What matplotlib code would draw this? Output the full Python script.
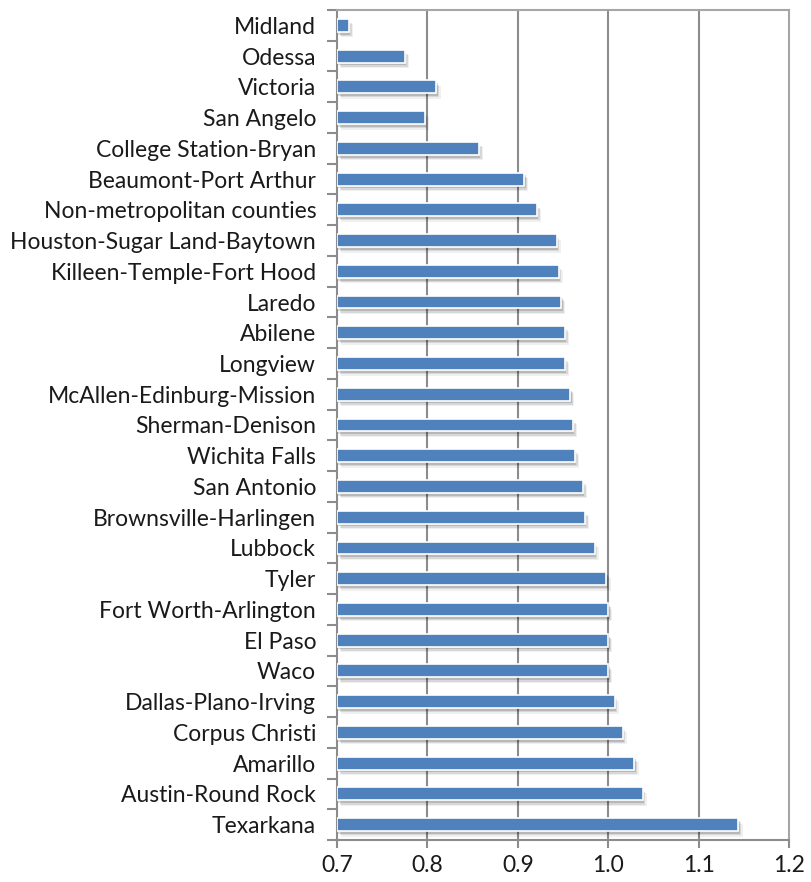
import numpy as np
import matplotlib
matplotlib.use('Agg')
import matplotlib.pyplot as plt
import matplotlib.patheffects as pe

regions = ['Midland', 'Odessa', 'Victoria', 'San Angelo', 'College Station-Bryan',
           'Beaumont-Port Arthur', 'Non-metropolitan counties', 'Houston-Sugar Land-Baytown',
           'Killeen-Temple-Fort Hood', 'Laredo', 'Abilene', 'Longview',
           'McAllen-Edinburg-Mission', 'Sherman-Denison', 'Wichita Falls', 'San Antonio',
           'Brownsville-Harlingen', 'Lubbock', 'Tyler', 'Fort Worth-Arlington', 'El Paso',
           'Waco', 'Dallas-Plano-Irving', 'Corpus Christi', 'Amarillo', 'Austin-Round Rock',
           'Texarkana']
values = [0.713, 0.775, 0.810, 0.797, 0.857,
          0.907, 0.921, 0.943,
          0.945, 0.948, 0.952, 0.952,
          0.958, 0.961, 0.963, 0.972,
          0.974, 0.985, 0.998, 1.000, 1.000,
          1.000, 1.007, 1.016, 1.029, 1.038,
          1.144]
xticks = [0.7, 0.8, 0.9, 1.0, 1.1, 1.2]

plt.rcParams['font.family'] = ['Lato', 'DejaVu Sans']

fig = plt.figure(figsize=(8.11, 8.82), dpi=100)
ax = fig.add_axes([0.4155, 0.0476, 0.5575, 0.9411])

y = np.arange(len(regions))
base = xticks[0]
# soft drop shadow under each bar
shadow = [pe.SimplePatchShadow(offset=(3, -4), shadow_rgbFace='#000000', alpha=0.06),
          pe.SimplePatchShadow(offset=(2, -3), shadow_rgbFace='#000000', alpha=0.10),
          pe.SimplePatchShadow(offset=(1, -2), shadow_rgbFace='#000000', alpha=0.14),
          pe.Normal()]
bars = ax.barh(y, np.array(values) - base, left=base, height=0.42,
               color='#4f81bd', edgecolor='white', linewidth=1.2, zorder=3)
for b in bars:
    b.set_path_effects(shadow)

ax.set_ylim(len(regions) - 0.5, -0.5)
ax.set_xlim(0.7, 1.2)
ax.set_yticks(y)
ax.set_yticklabels(regions, fontsize=16.5, color='#1a1a1a')
ax.set_yticks(np.arange(len(regions) + 1) - 0.5, minor=True)
ax.tick_params(axis='y', which='major', length=0, pad=15)
ax.tick_params(axis='y', which='minor', length=7, width=1.5, color='#8c8c8c')
ax.set_xticks(xticks)
ax.set_xticklabels(['%.1f' % t for t in xticks], fontsize=16.5, color='#1a1a1a')
ax.tick_params(axis='x', length=6, width=1.5, color='#8c8c8c', pad=5)

for t in xticks[1:-1]:
    ax.axvline(t, color='#8c8c8c', linewidth=1.5, zorder=1)
for s in ax.spines.values():
    s.set_color('#a6a6a6')
    s.set_linewidth(1.5)
ax.spines['left'].set_color('#8c8c8c')
ax.spines['bottom'].set_color('#8c8c8c')

fig.savefig('out.png', dpi=100)
